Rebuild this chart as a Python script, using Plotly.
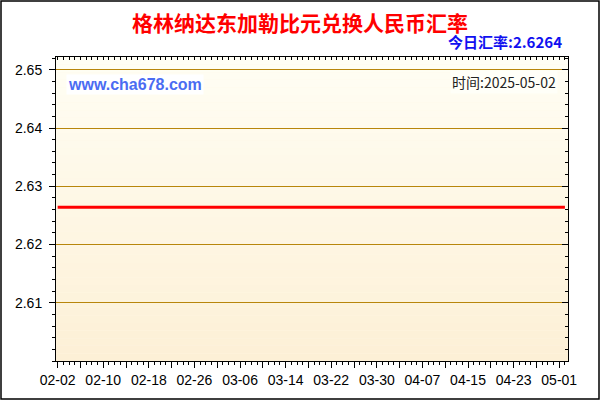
import pandas as pd
from plotly import graph_objects as go

# daily dates shown on the chart, 2025-02-02 .. 2025-05-02
datas = pd.date_range("2025-02-02", "2025-05-02", freq="D")

# exchange rate (flat line)
taxas = [
    2.6264, 2.6264, 2.6264, 2.6264, 2.6264, 2.6264, 2.6264, 2.6264, 2.6264, 2.6264,
    2.6264, 2.6264, 2.6264, 2.6264, 2.6264, 2.6264, 2.6264, 2.6264, 2.6264, 2.6264,
    2.6264, 2.6264, 2.6264, 2.6264, 2.6264, 2.6264, 2.6264, 2.6264, 2.6264, 2.6264,
    2.6264, 2.6264, 2.6264, 2.6264, 2.6264, 2.6264, 2.6264, 2.6264, 2.6264, 2.6264,
    2.6264, 2.6264, 2.6264, 2.6264, 2.6264, 2.6264, 2.6264, 2.6264, 2.6264, 2.6264,
    2.6264, 2.6264, 2.6264, 2.6264, 2.6264, 2.6264, 2.6264, 2.6264, 2.6264, 2.6264,
    2.6264, 2.6264, 2.6264, 2.6264, 2.6264, 2.6264, 2.6264, 2.6264, 2.6264, 2.6264,
    2.6264, 2.6264, 2.6264, 2.6264, 2.6264, 2.6264, 2.6264, 2.6264, 2.6264, 2.6264,
    2.6264, 2.6264, 2.6264, 2.6264, 2.6264, 2.6264, 2.6264, 2.6264, 2.6264, 2.6264,
]

titulo = "格林纳达东加勒比元兑换人民币汇率"
taxa_hoje = "2.6264"
data_hoje = "2025-05-02"
site = "www.cha678.com"

y_ticks = [2.61, 2.62, 2.63, 2.64, 2.65]

# major ticks every 4 days, label every 8 days
x_ticks = list(datas[:89:4])
x_labels = [d.strftime("%m-%d") if i % 2 == 0 else "" for i, d in enumerate(x_ticks)]

x_range = [pd.Timestamp("2025-02-01 17:00"), pd.Timestamp("2025-05-02 13:00")]
y_range = [2.6, 2.6522]

# plot area in pixels (600x400 window)
L, R, T, B = 56, 32, 57, 39
W, H = 600 - L - R, 400 - T - B

fonte = "Liberation Sans, Arial, sans-serif"
fonte_cjk = "Noto Sans CJK SC, sans-serif"

trace = go.Scatter(
    x=datas,
    y=taxas,
    mode="lines",
    line=dict(color="#ff0000", width=3),
    hoverinfo="x+y",
    showlegend=False,
)

# vertical gradient background
shapes = []
n = 40
c_top = (255, 254, 244)
c_bot = (253, 240, 214)
for i in range(n):
    t = i / (n - 1)
    cor = tuple(round(c_top[k] + (c_bot[k] - c_top[k]) * t) for k in range(3))
    shapes.append(dict(
        type="rect", xref="paper", yref="paper",
        x0=0, x1=1, y0=1 - (i + 1) / n, y1=1 - i / n,
        fillcolor="rgb(%d,%d,%d)" % cor, line=dict(width=0), layer="below",
    ))

# outer frame of the image
shapes.append(dict(
    type="rect", xref="paper", yref="paper",
    x0=(1 - L) / W, x1=(599 - L) / W,
    y0=(H + T - 399) / H, y1=(H + T - 1) / H,
    line=dict(color="black", width=1.5), fillcolor="rgba(0,0,0,0)", layer="above",
))

layout = go.Layout(
    width=600,
    height=400,
    margin=dict(l=L, r=R, t=T, b=B),
    paper_bgcolor="white",
    plot_bgcolor="#fff8e6",
    title=dict(
        text="<b>%s</b>" % titulo,
        x=0.5, xanchor="center",
        y=1 - 24 / 400, yanchor="middle",
        font=dict(family=fonte_cjk, size=21, color="#ff0000"),
    ),
    xaxis=dict(
        type="date",
        range=x_range,
        tickmode="array",
        tickvals=x_ticks,
        ticktext=x_labels,
        ticks="outside",
        ticklen=6,
        tickcolor="black",
        minor=dict(dtick=86400000, tick0="2025-02-02", ticks="outside",
                   ticklen=3, tickcolor="black", showgrid=False),
        showgrid=False,
        zeroline=False,
        showline=True,
        linecolor="black",
        linewidth=1,
        mirror=True,
        tickfont=dict(family=fonte, size=14, color="black"),
    ),
    yaxis=dict(
        range=y_range,
        tickmode="array",
        tickvals=y_ticks,
        ticktext=["%.2f" % v for v in y_ticks],
        ticks="outside",
        ticklen=6,
        tickcolor="black",
        ticklabelstandoff=4,
        minor=dict(dtick=0.002, tick0=2.6, ticks="outside",
                   ticklen=3, tickcolor="black", showgrid=False),
        showgrid=True,
        gridcolor="#b8860b",
        gridwidth=1,
        zeroline=False,
        showline=True,
        linecolor="black",
        linewidth=1,
        mirror=True,
        tickfont=dict(family=fonte, size=14, color="black"),
    ),
    # top and right axes with ticks pointing inside
    xaxis2=dict(
        type="date", overlaying="x", side="top", range=x_range,
        tickmode="linear", tick0="2025-02-02", dtick=86400000,
        ticks="inside", ticklen=3, tickcolor="black",
        showticklabels=False, showgrid=False, zeroline=False, showline=False,
    ),
    yaxis2=dict(
        overlaying="y", side="right", range=y_range,
        tickmode="array", tickvals=y_ticks,
        ticks="inside", ticklen=6, tickcolor="black",
        minor=dict(dtick=0.002, tick0=2.6, ticks="inside",
                   ticklen=3, tickcolor="black", showgrid=False),
        showticklabels=False, showgrid=False, zeroline=False, showline=False,
    ),
    shapes=shapes,
    annotations=[
        dict(
            text="<b>今日汇率:%s</b>" % taxa_hoje,
            xref="paper", yref="paper",
            x=(564 - L) / W, xanchor="right",
            y=(H + T - 42) / H, yanchor="middle",
            showarrow=False,
            font=dict(family=fonte_cjk, size=15, color="#1010f0"),
        ),
        dict(
            text="<b>%s</b>" % site,
            xref="paper", yref="paper",
            x=(66 - L) / W, xanchor="left",
            y=(H + T - 85) / H, yanchor="middle",
            showarrow=False,
            bgcolor="white",
            borderpad=1,
            font=dict(family=fonte, size=16, color="#4b6cf2"),
        ),
        dict(
            text="时间:%s" % data_hoje,
            xref="paper", yref="paper",
            x=(558 - L) / W, xanchor="right",
            y=(H + T - 82) / H, yanchor="middle",
            showarrow=False,
            bgcolor="#fffff8",
            borderpad=1,
            font=dict(family=fonte_cjk, size=14, color="#222222"),
        ),
    ],
    hovermode="closest",
)

fig = go.Figure(data=[trace], layout=layout)

# invisible helper so the overlay axes are drawn
fig.add_trace(go.Scatter(
    x=[datas[0]], y=[taxas[0]], xaxis="x2", yaxis="y2",
    mode="markers", marker=dict(opacity=0), hoverinfo="skip", showlegend=False,
))

# page body has a default 8px margin; drop it so the figure sits at 0,0
fig.write_html(
    "out.html",
    config={"displayModeBar": False},
    post_script="document.body.style.margin='0';",
)
